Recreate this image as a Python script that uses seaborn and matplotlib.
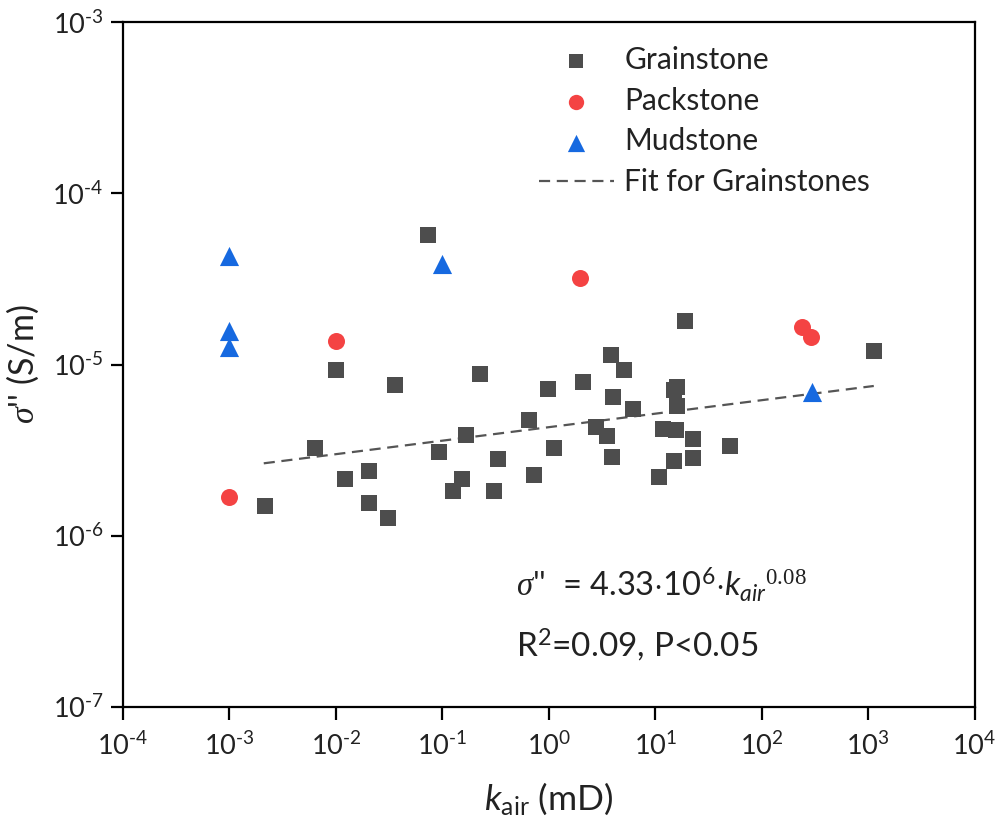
import matplotlib
matplotlib.use("Agg")
import matplotlib.pyplot as plt
from matplotlib.ticker import FuncFormatter, FixedLocator
import numpy as np
import seaborn as sns
import pandas as pd

# ---- data ----
grain_k = [2.15e-3, 6.4e-3, 1.0e-2, 1.22e-2, 2.04e-2, 2.04e-2, 3.1e-2, 3.6e-2,
           0.0736, 0.093, 0.126, 0.153, 0.167, 0.226, 0.306, 0.334,
           0.65, 0.72, 0.98, 1.13, 2.1, 2.8, 3.5, 3.85, 3.9, 4.0, 5.1, 6.2,
           10.8, 11.9, 15.0, 16.0, 15.1, 15.7, 16.1, 19.2, 22.4, 22.6, 50.6, 1133]
grain_s = [1.5e-6, 3.26e-6, 9.3e-6, 2.15e-6, 2.39e-6, 1.55e-6, 1.27e-6, 7.6e-6,
           5.7e-5, 3.09e-6, 1.83e-6, 2.15e-6, 3.88e-6, 8.8e-6, 1.83e-6, 2.81e-6,
           4.75e-6, 2.27e-6, 7.2e-6, 3.26e-6, 7.9e-6, 4.3e-6, 3.85e-6, 1.14e-5, 2.9e-6, 6.5e-6, 9.3e-6, 5.5e-6,
           2.2e-6, 4.2e-6, 7.1e-6, 7.4e-6, 2.74e-6, 4.17e-6, 5.7e-6, 1.8e-5, 2.85e-6, 3.68e-6, 3.36e-6, 1.2e-5]

pack_k = [1e-3, 1e-2, 1.97, 239, 292]
pack_s = [1.69e-6, 1.37e-5, 3.2e-5, 1.66e-5, 1.45e-5]

mud_k = [1e-3, 1e-3, 1e-3, 0.1, 296]
mud_s = [4.3e-5, 1.57e-5, 1.27e-5, 3.85e-5, 6.9e-6]

fit_k = [2.1e-3, 1130]
fit_s = [2.65e-6, 7.5e-6]

x_tick_exp = [-4, -3, -2, -1, 0, 1, 2, 3, 4]
y_tick_exp = [-7, -6, -5, -4, -3]

groups = ["Grainstone", "Packstone", "Mudstone"]
colors = {"Grainstone": "#4d4d4d", "Packstone": "#f44343", "Mudstone": "#1669e0"}
markers = {"Grainstone": "s", "Packstone": "o", "Mudstone": "^"}
sizes = {"Grainstone": 125, "Packstone": 150, "Mudstone": 190}

df = pd.concat([
    pd.DataFrame({"k": grain_k, "s": grain_s, "type": "Grainstone"}),
    pd.DataFrame({"k": pack_k, "s": pack_s, "type": "Packstone"}),
    pd.DataFrame({"k": mud_k, "s": mud_s, "type": "Mudstone"}),
])

sns.set_theme(style="ticks")
plt.rcParams["font.family"] = ["Lato", "DejaVu Sans"]
plt.rcParams["axes.unicode_minus"] = False
plt.rcParams["mathtext.fontset"] = "custom"
plt.rcParams["mathtext.rm"] = "Liberation Serif"
plt.rcParams["mathtext.it"] = "Lato:italic"
plt.rcParams["mathtext.cal"] = "Liberation Serif:italic"

fig = plt.figure(figsize=(9.96, 8.23), dpi=100)
ax = fig.add_axes([0.1235, 0.141, 0.855, 0.832])

for g in groups:
    sub = df[df["type"] == g]
    sns.scatterplot(data=sub, x="k", y="s", ax=ax, color=colors[g],
                    marker=markers[g], s=sizes[g], linewidth=0, label=g, zorder=3)

sns.lineplot(x=fit_k, y=fit_s, ax=ax, color="#555555", linestyle=(0, (5, 3)),
             linewidth=1.6, label="Fit for Grainstones", zorder=2)

ax.set_xscale("log")
ax.set_yscale("log")
ax.xaxis.set_major_locator(FixedLocator([10.0 ** e for e in x_tick_exp]))
ax.yaxis.set_major_locator(FixedLocator([10.0 ** e for e in y_tick_exp]))
ax.minorticks_off()
ax.set_xlim(1e-4, 1e4)
ax.set_ylim(1e-7, 1e-3)


def dec_fmt(v, pos):
    e = int(round(np.log10(v)))
    s = str(e).replace("-", "\u2010")
    return "10$^{\\mathdefault{" + s + "}}$"


ax.xaxis.set_major_formatter(FuncFormatter(dec_fmt))
ax.yaxis.set_major_formatter(FuncFormatter(dec_fmt))

for sp in ax.spines.values():
    sp.set_linewidth(1.6)
    sp.set_color("black")
ax.tick_params(axis="both", which="major", direction="out", length=9, width=1.6,
               labelsize=19.5, colors="black")
ax.tick_params(axis="x", pad=9)
ax.tick_params(axis="y", pad=5)
for lab in ax.get_xticklabels() + ax.get_yticklabels():
    lab.set_color("#222222")

ax.set_xlabel(r"$\mathit{k}_{\mathdefault{air}}$ (mD)", fontsize=25.5, color="#222222", labelpad=15)
ax.set_ylabel(r"$\mathcal{\sigma}$'' (S/m)", fontsize=24.5, color="#222222", labelpad=8)

ax.text(0.462, 0.178,
        r"$\mathcal{\sigma}$''  = 4.33$\cdot$10$^{\mathdefault{6}}$$\cdot$$\mathit{k}_{\mathit{air}}$$^{\mathrm{0.08}}$",
        transform=ax.transAxes, fontsize=23.5, color="#222222", va="center", ha="left")
ax.text(0.462, 0.0905, r"R$^{\mathdefault{2}}$=0.09, P<0.05",
        transform=ax.transAxes, fontsize=24, color="#222222", va="center", ha="left")

leg = ax.legend(loc="upper left", bbox_to_anchor=(0.457, 1.005), frameon=False,
                fontsize=21.5, handlelength=2.5, handletextpad=0.35, labelspacing=0.43,
                markerscale=0.9)
for t in leg.get_texts():
    t.set_color("#222222")

fig.savefig("out.png", dpi=100)
